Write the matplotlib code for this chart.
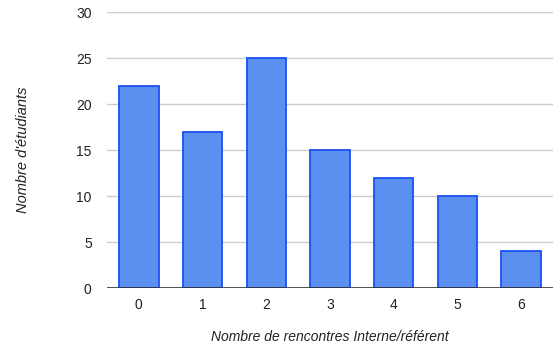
import matplotlib
matplotlib.use("Agg")
import matplotlib.pyplot as plt

categories = ["0", "1", "2", "3", "4", "5", "6"]
counts = [22, 17, 25, 15, 12, 10, 4]
y_ticks = [0, 5, 10, 15, 20, 25, 30]

plt.rcParams["font.family"] = ["Liberation Sans", "DejaVu Sans"]

fig = plt.figure(figsize=(5.53, 3.46), dpi=100)
ax = fig.add_axes([0.1935, 0.1676, 0.8065, 0.7977])

x = list(range(len(categories)))
ax.bar(x, counts, width=0.62, color="#5b8ff0", edgecolor="#1a4ff5",
       linewidth=1.3, zorder=3)

ax.set_xlim(-0.5, len(categories) - 0.5)
ax.set_ylim(0, 30)
ax.set_yticks(y_ticks)
ax.set_xticks(x)
ax.set_xticklabels(categories)
ax.yaxis.grid(True, color="#cccccc", linewidth=1, zorder=0)
ax.axhline(0, color="#333333", linewidth=1.2, zorder=4)
for s in ax.spines.values():
    s.set_visible(False)
ax.tick_params(axis="both", length=0, labelsize=10, colors="#222222")
ax.tick_params(axis="y", pad=11)
ax.tick_params(axis="x", pad=7)

ax.set_xlabel("Nombre de rencontres Interne/référent", fontsize=10,
              style="italic", color="#222222", labelpad=13)
ax.set_ylabel("Nombre d'étudiants", fontsize=10.5, style="italic",
              color="#222222", labelpad=33)

fig.savefig("out.png", dpi=100)
